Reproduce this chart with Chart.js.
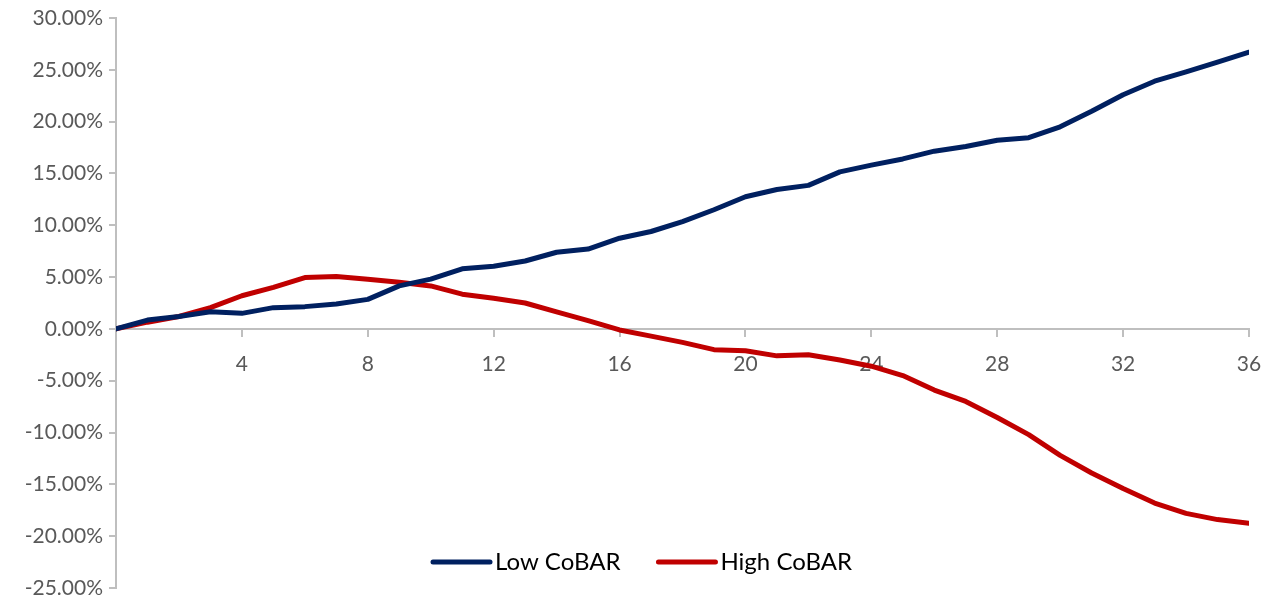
<!DOCTYPE html>
<html>
<head>
<meta charset="utf-8">
<script src="https://cdn.jsdelivr.net/npm/chart.js@4.4.0/dist/chart.umd.min.js"></script>
<style>
  html, body { margin: 0; padding: 0; background: #fff; }
  #wrap { width: 1273px; height: 600px; }
</style>
</head>
<body>
<div id="wrap"><canvas id="cobarChart"></canvas></div>
<script>
// ----------------data-------------------------
const months = [];
for (let m = 0; m <= 36; m++) months.push(m);

const lowCobar = [0, 0.85, 1.2, 1.65, 1.5, 2.05, 2.15, 2.4, 2.85, 4.15, 4.8, 5.8, 6.05, 6.55, 7.4, 7.7,
  8.75, 9.4, 10.35, 11.5, 12.75, 13.45, 13.85, 15.15, 15.8, 16.4, 17.15, 17.6, 18.2, 18.45,
  19.5, 21.0, 22.6, 23.9, 24.8, 25.75, 26.7];

const highCobar = [0, 0.65, 1.2, 2.05, 3.2, 4.0, 4.95, 5.05, 4.8, 4.5, 4.15, 3.35, 2.95, 2.5, 1.65, 0.8,
  -0.1, -0.7, -1.3, -2.0, -2.1, -2.6, -2.5, -3.0, -3.6, -4.5, -5.9, -7.0, -8.55, -10.2,
  -12.2, -13.9, -15.4, -16.8, -17.8, -18.4, -18.75];

const seriesNames = ['Low CoBAR', 'High CoBAR'];
const seriesColors = ['#002060', '#C00000'];

const tickFont = { size: 21, family: 'Lato, "Open Sans", sans-serif' };

// ----------------legend inside plot----------------
const innerLegend = {
  id: 'innerLegend',
  afterDraw(chart) {
    const ctx = chart.ctx;
    const y = 562;
    let x = 433;
    ctx.save();
    ctx.font = '24px Lato, "Open Sans", sans-serif';
    ctx.textBaseline = 'middle';
    chart.data.datasets.forEach((ds) => {
      ctx.strokeStyle = ds.borderColor;
      ctx.lineWidth = 5;
      ctx.lineCap = 'round';
      ctx.beginPath();
      ctx.moveTo(x, y);
      ctx.lineTo(x + 57, y);
      ctx.stroke();
      ctx.fillStyle = '#000';
      ctx.fillText(ds.label, x + 62, y);
      x += 62 + ctx.measureText(ds.label).width + 38;
    });
    ctx.restore();
  }
};

// ----------------chart-------------------------
function createChart() {
  const datasets = [lowCobar, highCobar].map((vals, i) => ({
    label: seriesNames[i],
    data: vals.map((v, j) => ({ x: months[j], y: v })),
    borderColor: seriesColors[i],
    backgroundColor: seriesColors[i],
    borderWidth: 5,
    pointRadius: 0,
    tension: 0,
    borderCapStyle: 'round',
    borderJoinStyle: 'round'
  }));

  new Chart(document.getElementById('cobarChart'), {
    type: 'line',
    data: { datasets: datasets },
    plugins: [innerLegend],
    options: {
      responsive: true,
      maintainAspectRatio: false,
      animation: false,
      layout: { padding: { top: 18, right: 24, bottom: 12, left: 0 } },
      plugins: {
        legend: { display: false },
        tooltip: { enabled: false }
      },
      scales: {
        x: {
          type: 'linear',
          position: { y: 0 },
          min: 0,
          max: 36,
          afterFit(scale) {
            scale.height = 0;
            scale.paddingLeft = 0;
            scale.paddingRight = 0;
          },
          border: { color: '#BFBFBF', width: 2 },
          grid: { drawOnChartArea: false, color: '#BFBFBF', lineWidth: 2, tickLength: 7 },
          ticks: {
            stepSize: 4,
            color: '#595959',
            font: tickFont,
            padding: 16,
            maxRotation: 0,
            callback: (v) => (v === 0 ? '' : v)
          }
        },
        y: {
          min: -25,
          max: 30,
          afterFit(scale) {
            scale.width = 116;
            scale.paddingTop = 0;
            scale.paddingBottom = 0;
          },
          border: { color: '#BFBFBF', width: 2 },
          grid: { drawOnChartArea: false, color: '#BFBFBF', lineWidth: 2, tickLength: 7 },
          ticks: {
            stepSize: 5,
            color: '#595959',
            font: tickFont,
            padding: 6,
            callback: (v) => v.toFixed(2) + '%'
          }
        }
      }
    }
  });
}

window.addEventListener('load', () => {
  createChart();
});
</script>
</body>
</html>
